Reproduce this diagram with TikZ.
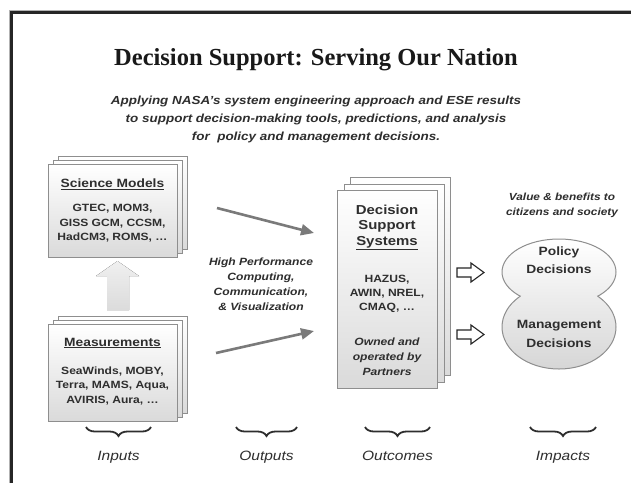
\documentclass[tikz,border=0pt]{standalone}
\usepackage{fontspec}
\setmainfont{Liberation Serif}
\newfontfamily\wsans{Liberation Sans}[FakeStretch=1.15]
\usetikzlibrary{arrows.meta,decorations.pathreplacing}

\definecolor{ink}{HTML}{2E2E2E}
\definecolor{edge}{HTML}{8E8E8E}
\definecolor{shadebot}{HTML}{DADADA}
\definecolor{flow}{HTML}{7A7A7A}

\newcommand\fs[2]{\fontsize{#1}{#2}\selectfont}

\begin{document}
\begin{tikzpicture}[x=1pt,y=-1pt,
  card/.style={draw=edge, line width=0.9pt, top color=white, bottom color=shadebot, inner sep=0pt},
  txt/.style={text=ink, align=center, inner sep=0pt, font=\wsans\bfseries},
  flowarrow/.style={draw=flow, line width=2.6pt, -{Triangle[length=13pt,width=11pt]}},
  hollow/.style={draw=black!85, line width=1.1pt, fill=white, line join=miter},
  brace/.style={draw=ink, line width=1.8pt, decorate, decoration={brace, mirror, amplitude=9pt}},
  label/.style={text=ink, inner sep=0pt, anchor=base, font=\wsans\itshape\fs{13.5}{16}}
]
\useasboundingbox (0,0) rectangle (631,483);
\fill[white] (0,0) rectangle (631,483);

% page frame
\draw[black!30, line width=1pt] (9,483) -- (9,10) -- (631,10);
\draw[black!85, line width=2.6pt] (11.5,483) -- (11.5,12.5) -- (631,12.5);

% heading
\node[inner sep=0pt, font=\bfseries\fs{24.5}{30}, text=black!90] (title) at (316,60) {Decision Support: Serving Our Nation};
\node[txt, font=\wsans\bfseries\itshape\fs{11.7}{18}] (sub) at (316,119)
  {Applying NASA’s system engineering approach and ESE results\\
   to support decision-making tools, predictions, and analysis\\
   for\ \ policy and management decisions.};

% science models stack
\node[card, minimum width=129pt, minimum height=93pt] (sci3) at (122.5,202.5) {};
\node[card, minimum width=129pt, minimum height=93pt] (sci2) at (117.5,206.5) {};
\node[card, minimum width=129pt, minimum height=93pt] (sci) at (112.5,210.5) {};
\node[txt, font=\wsans\bfseries\fs{12}{14}] (scihead) at (112.5,184) {\underline{Science Models}};
\node[txt, font=\wsans\bfseries\fs{10.5}{14.5}] (scibody) at (112.5,223.5)
  {GTEC, MOM3,\\GISS GCM, CCSM,\\HadCM3, ROMS, …};

% measurements stack
\node[card, minimum width=129pt, minimum height=97pt] (mea3) at (122.5,364.5) {};
\node[card, minimum width=129pt, minimum height=97pt] (mea2) at (117.5,368.5) {};
\node[card, minimum width=129pt, minimum height=97pt] (mea) at (112.5,372.5) {};
\node[txt, font=\wsans\bfseries\fs{12}{14}] (meahead) at (112.5,343) {\underline{Measurements}};
\node[txt, font=\wsans\bfseries\fs{10.5}{14.5}] (meabody) at (112.5,385.5)
  {SeaWinds, MOBY,\\Terra, MAMS, Aqua,\\AVIRIS, Aura, …};

% broad upward arrow between the stacks
\fill[top color=black!6, bottom color=black!14]
  (107,310) -- (107,276) -- (96,276) -- (117.5,261) -- (139,276) -- (129,276) -- (129,310) -- cycle;

% decision support systems stack
\node[card, minimum width=100pt, minimum height=198pt] (dss3) at (400,276) {};
\node[card, minimum width=100pt, minimum height=198pt] (dss2) at (394,283) {};
\node[card, minimum width=100pt, minimum height=198pt] (dss) at (387,289) {};
\node[txt, font=\wsans\bfseries\fs{13}{15.5}] (dsshead) at (387,227.5)
  {Decision\\Support\\\underline{Systems}};
\node[txt, font=\wsans\bfseries\fs{10.5}{14}] (dssbody) at (387,294)
  {HAZUS,\\AWIN, NREL,\\CMAQ, …};
\node[txt, font=\wsans\bfseries\itshape\fs{10.5}{15}] (dssown) at (387,357)
  {Owned and\\operated by\\Partners};

% flows into the decision support systems
\coordinate (up1) at (217,208);
\coordinate (up2) at (314,233);
\coordinate (lo1) at (216,353);
\coordinate (lo2) at (314,331);
\draw[flowarrow] (up1) -- (up2);
\draw[flowarrow] (lo1) -- (lo2);
\node[txt, font=\wsans\bfseries\itshape\fs{10.5}{15}] (hpc) at (261,284.5)
  {High Performance\\Computing,\\Communication,\\\& Visualization};

% hollow arrows toward the decisions
\draw[hollow] (457,268) -- (471,268) -- (471,263) -- (484,272.5) -- (471,282) -- (471,277) -- (457,277) -- cycle;
\draw[hollow] (457,330) -- (471,330) -- (471,325) -- (484,334.5) -- (471,344) -- (471,339) -- (457,339) -- cycle;

% decision lobes
\node[text=ink, align=center, inner sep=0pt, font=\wsans\bfseries\itshape\fs{10.3}{15}] (value) at (562,205)
  {Value \& benefits to\\citizens and society};
\path[top color=white, bottom color=black!16]
  (559,272) ellipse [x radius=57, y radius=33]
  (559,327) ellipse [x radius=57, y radius=42];
\begin{scope}[even odd rule]
  \clip (0,0) rectangle (631,483) (559,327) ellipse [x radius=57, y radius=42];
  \draw[edge, line width=1pt] (559,272) ellipse [x radius=57, y radius=33];
\end{scope}
\begin{scope}[even odd rule]
  \clip (0,0) rectangle (631,483) (559,272) ellipse [x radius=57, y radius=33];
  \draw[edge, line width=1pt] (559,327) ellipse [x radius=57, y radius=42];
\end{scope}
\node[txt, font=\wsans\bfseries\fs{12}{18.5}] (policy) at (559,260) {Policy\\Decisions};
\node[txt, font=\wsans\bfseries\fs{12}{18.5}] (mgmt) at (559,334) {Management\\Decisions};

% stage braces
\draw[brace] (86,427) -- (151,427);
\draw[brace] (236,427) -- (297,427);
\draw[brace] (365,427) -- (430,427);
\draw[brace] (530,427) -- (596,427);
\node[label] (inputs) at (118.5,460) {Inputs};
\node[label] (outputs) at (266.5,460) {Outputs};
\node[label] (outcomes) at (397.5,460) {Outcomes};
\node[label] (impacts) at (563,460) {Impacts};
\end{tikzpicture}
\end{document}
